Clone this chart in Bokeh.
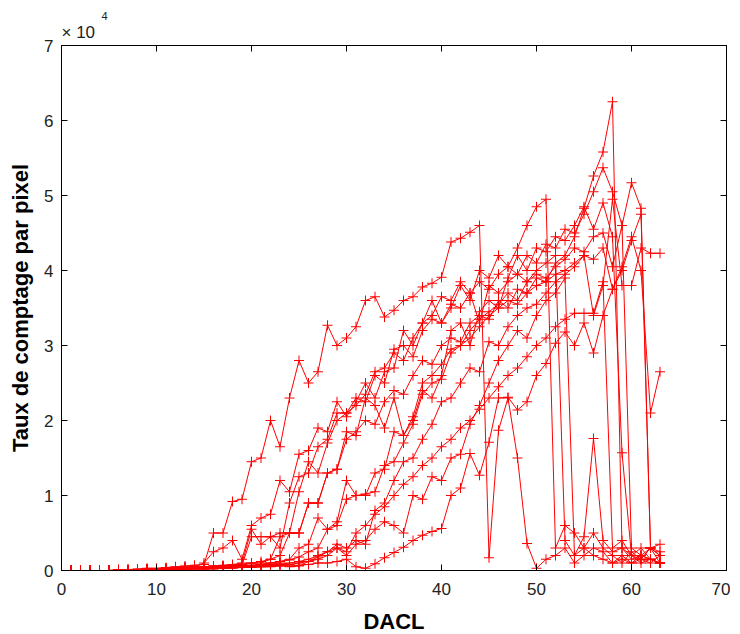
from bokeh.plotting import figure
from bokeh.models import Range1d, FixedTicker, LinearAxis, Title, ColumnDataSource
from bokeh.embed import file_html
from bokeh.resources import INLINE

# DACL threshold values (x axis)
dacl = list(range(64))

# Count rate per pixel, in units of 1e4 (one list per pixel)
s01 = [0,0,0,0,0,0,0.01,0.01,0.02,0.03,0.03,0.04,0.05,0.06,0.07,
       0.08,0.5,0.5,0.92,0.95,1.45,1.5,2.0,1.65,2.3,2.8,2.5,2.65,3.27,3.0,3.1,
       3.25,3.6,3.65,3.38,3.47,3.6,3.65,3.78,3.83,3.91,4.38,4.43,4.51,4.6,
       0.17,1.87,2.3,1.5,0.36,0.03,0.15,0.2,0.3,0.1,0.2,0.3,0.25,0.1,0.15,0.1,0.2,0.15,0.1]
s02 = [0,0,0,0,0,0,0,0.01,0.01,0.02,0.02,0.03,0.04,0.05,0.05,
       0.1,0.25,0.3,0.4,0.15,0.6,0.7,0.75,1.2,1.05,1.55,1.6,1.9,1.85,2.25,2.05,
       2.25,2.5,2.3,2.65,2.7,3.2,3.0,3.3,3.6,3.3,3.5,3.8,3.6,4.0,
       3.9,4.2,4.05,4.3,4.6,4.85,4.95,0.3,0.6,0.5,0.3,0.2,0.15,0.1,0.2,0.1,0.15,0.1,0.2]
s03 = [0,0,0,0,0,0,0.01,0.01,0.01,0.02,0.02,0.03,0.03,0.04,0.05,
       0.05,0.06,0.07,0.08,0.1,0.55,0.35,0.45,0.3,0.9,1.25,1.3,1.65,1.75,2.1,2.1,
       2.2,2.35,2.65,2.7,2.9,2.8,3.1,3.3,3.4,3.65,3.6,3.85,3.7,3.3,
       3.8,3.7,3.85,3.95,3.85,4.0,4.1,4.2,0.4,0.2,0.3,0.5,0.3,0.2,0.1,0.25,0.15,0.3,0.2]
s04 = [0,0,0,0,0,0,0,0,0.01,0.01,0.02,0.02,0.03,0.03,0.04,
       0.05,0.05,0.06,0.07,0.08,0.1,0.12,0.15,0.45,0.5,0.5,0.9,0.9,1.3,1.35,1.75,
       1.85,2.0,1.95,2.25,2.4,2.35,2.6,2.8,2.75,3.0,3.1,3.05,3.3,3.4,
       3.35,3.6,3.5,3.75,3.7,3.9,3.85,4.1,4.2,4.45,4.83,5.26,5.58,6.25,0.3,0.2,0.1,0.15,0.1]
s05 = [0,0,0,0,0,0,0,0.01,0.01,0.01,0.02,0.02,0.03,0.04,0.04,
       0.05,0.06,0.06,0.07,0.08,0.1,0.1,0.15,0.2,0.5,1.05,1.45,1.3,1.7,2.0,2.1,
       2.3,2.25,2.6,2.5,2.95,3.0,2.85,3.2,3.35,3.3,3.55,3.5,3.7,3.85,
       3.75,3.95,4.05,3.95,4.2,4.1,4.35,4.3,4.55,4.5,4.75,5.05,5.37,5.05,4.6,0.3,0.2,0.15,0.1]
s06 = [0,0,0,0,0,0,0,0,0,0.01,0.01,0.02,0.02,0.03,0.03,
       0.04,0.04,0.05,0.05,0.06,0.07,0.08,0.1,0.12,0.15,0.3,0.35,0.7,0.55,0.6,0.95,
       1.0,1.0,1.3,1.35,1.85,1.8,2.05,2.5,2.6,2.75,2.95,3.0,3.2,3.35,
       3.45,3.55,3.7,3.6,3.85,3.95,3.9,4.05,4.15,4.3,4.25,4.45,4.5,4.05,4.6,5.17,4.83,0.3,0.25]
s07 = [0,0,0,0,0,0,0.01,0.01,0.01,0.02,0.02,0.02,0.03,0.03,0.04,
       0.04,0.05,0.05,0.06,0.06,0.07,0.08,0.1,0.12,0.14,0.18,0.25,0.3,0.55,0.65,1.2,
       1.0,1.02,1.05,1.4,1.45,1.7,1.95,2.35,2.5,2.55,2.9,3.0,3.1,3.25,
       3.4,3.5,3.6,3.55,3.7,3.8,3.85,3.95,4.0,4.1,4.2,3.4,3.8,4.95,3.8,3.8,4.3,4.23,4.23]
s08 = [0,0,0,0,0,0,0,0,0.01,0.01,0.01,0.02,0.02,0.03,0.03,
       0.03,0.04,0.04,0.05,0.05,0.06,0.06,0.07,0.08,0.1,0.12,0.15,0.2,0.25,0.35,0.3,
       0.4,0.35,0.8,0.9,1.2,1.45,1.5,1.75,1.95,2.25,2.3,2.5,2.7,2.65,
       3.05,3.0,3.25,3.4,3.5,3.55,3.7,3.85,3.95,4.05,4.2,4.15,4.3,3.75,4.05,4.45,4.0,2.1,2.65]
s09 = [0,0,0,0,0,0,0,0,0,0,0.01,0.01,0.01,0.02,0.02,
       0.02,0.03,0.03,0.04,0.04,0.05,0.05,0.06,0.07,0.08,0.1,0.12,0.15,0.2,0.3,0.25,
       0.5,0.6,0.75,0.85,1.0,1.15,1.25,1.4,1.5,1.65,1.75,1.9,2.0,2.15,
       2.3,2.45,2.6,2.7,2.85,3.0,3.1,3.25,3.35,3.43,3.43,3.43,3.85,0.3,0.4,0.2,0.15,0.3,0.2]
s10 = [0,0,0,0,0,0,0,0,0,0,0,0.01,0.01,0.01,0.02,
       0.02,0.02,0.03,0.03,0.04,0.04,0.05,0.05,0.06,0.06,0.07,0.08,0.1,0.1,0.12,0.15,
       0.05,0.03,0.09,0.17,0.24,0.31,0.4,0.47,0.52,0.56,1.0,1.1,1.56,1.27,
       1.71,2.3,2.31,2.14,2.25,2.6,2.76,3.03,3.18,3.0,3.3,2.9,3.4,3.75,4.0,4.4,4.75,0.3,0.1]
s11 = [0,0,0,0,0,0,0,0,0,0.01,0.01,0.01,0.02,0.02,0.03,
       0.03,0.04,0.04,0.05,0.05,0.06,0.07,0.08,0.1,0.05,0.06,0.12,0.18,0.25,0.3,0.2,
       0.35,0.4,0.55,0.65,0.6,0.5,1.0,0.95,1.25,1.2,1.5,1.55,1.95,2.2,
       2.5,2.8,3.0,3.2,3.1,3.4,3.6,3.7,3.9,0.2,0.45,1.76,0.4,0.25,0.3,0.15,0.2,0.3,0.35]
s12 = [0,0,0,0,0,0,0,0.01,0.01,0.01,0.02,0.02,0.03,0.03,0.04,
       0.04,0.05,0.05,0.06,0.07,0.45,0.45,0.45,0.5,0.5,0.5,0.9,0.9,1.3,1.35,1.85,
       1.8,2.3,2.2,1.9,2.3,1.8,2.0,2.4,2.3,2.6,3.2,3.3,3.0,3.45,
       3.6,3.5,3.9,4.2,4.0,4.3,4.25,4.45,4.4,4.6,4.85,4.55,4.9,4.45,1.57,0.2,0.3,0.15,0.1]

series = [s01, s02, s03, s04, s05, s06, s07, s08, s09, s10, s11, s12]

x_ticks = [0, 10, 20, 30, 40, 50, 60, 70]
y_ticks = [0, 1, 2, 3, 4, 5, 6, 7]

FONT = "Liberation Sans"
TXT = "#222222"

p = figure(frame_width=665, frame_height=525,
           min_border_left=61, min_border_top=45, min_border_right=4, min_border_bottom=56,
           x_range=Range1d(0, 70), y_range=Range1d(0, 7),
           output_backend="svg", toolbar_location=None)
p.xgrid.visible = False
p.ygrid.visible = False
p.outline_line_color = "black"
p.outline_line_width = 1
p.background_fill_color = "white"
p.border_fill_color = "white"

for s in series:
    src = ColumnDataSource(dict(x=dacl, y=s))
    p.line("x", "y", source=src, line_color="#ff0000", line_width=1)
    p.scatter("x", "y", source=src, marker="cross", size=10,
              line_color="#ff0000", line_width=1)

def style_axis(ax, labels=True):
    ax.axis_line_color = "black"
    ax.major_tick_in = 6
    ax.major_tick_out = 0
    ax.minor_tick_in = 0
    ax.minor_tick_out = 0
    ax.major_tick_line_color = "black"
    ax.major_label_text_font = FONT
    if labels:
        ax.major_label_text_font_size = "17px"
        ax.major_label_text_color = TXT
    else:
        ax.major_label_text_font_size = "1px"
        ax.major_label_text_color = None
        ax.major_label_standoff = 0

p.xaxis.ticker = FixedTicker(ticks=x_ticks)
p.yaxis.ticker = FixedTicker(ticks=y_ticks)
style_axis(p.xaxis[0])
style_axis(p.yaxis[0])
p.xaxis.major_label_standoff = 12
p.yaxis.major_label_standoff = 8
p.xaxis.axis_label = "DACL"
p.yaxis.axis_label = "Taux de comptage par pixel"
for ax in (p.xaxis[0], p.yaxis[0]):
    ax.axis_label_text_font = FONT
    ax.axis_label_text_font_style = "bold"
    ax.axis_label_text_font_size = "22px"
    ax.axis_label_text_color = "black"
p.xaxis.axis_label_standoff = 11
p.yaxis.axis_label_standoff = 8

top = LinearAxis(ticker=FixedTicker(ticks=x_ticks))
right = LinearAxis(ticker=FixedTicker(ticks=y_ticks))
style_axis(top, labels=False)
style_axis(right, labels=False)
p.add_layout(top, "above")
p.add_layout(right, "right")

# axis multiplier "x10^4" written above the top-left corner, as MATLAB does
p.add_layout(Title(text="\u00d7 10", align="left", offset=0, standoff=7,
                   text_font=FONT, text_font_size="17px", text_font_style="normal",
                   text_color=TXT), "above")
p.add_layout(Title(text="4", align="left", offset=40, standoff=-4,
                   text_font=FONT, text_font_size="11px", text_font_style="normal",
                   text_color=TXT), "above")

open("out.html", "w").write(file_html(p, INLINE))
